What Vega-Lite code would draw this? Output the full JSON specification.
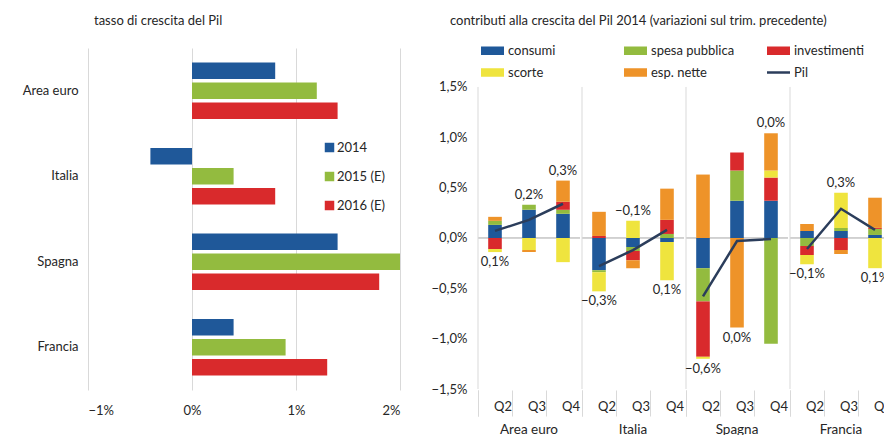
{
  "$schema": "https://vega.github.io/schema/vega-lite/v6.json",
  "padding": {"left": 22, "top": 15, "right": 0, "bottom": 0},
  "background": "white",
  "spacing": 31,
  "resolve": {"scale": {"color": "independent"}, "legend": {"color": "independent"}},
  "config": {
    "font": "Lato",
    "axis": {"labelFont": "Lato", "labelFontSize": 13, "labelColor": "#262626", "gridColor": "#d9d9d9", "gridWidth": 1},
    "legend": {"labelFont": "Lato", "labelFontSize": 13, "labelColor": "#262626"},
    "header": {"labelFont": "Lato", "labelFontSize": 13.5, "labelColor": "#262626"},
    "title": {"font": "Lato", "fontSize": 13, "fontWeight": "normal", "color": "#262626"},
    "view": {"stroke": null}
  },
  "datasets": {
    "componenti": [
      {"tipo": "consumi", "ordine": 1},
      {"tipo": "spesa pubblica", "ordine": 2},
      {"tipo": "investimenti", "ordine": 3},
      {"tipo": "scorte", "ordine": 4},
      {"tipo": "esp. nette", "ordine": 5}
    ],
    "crescita": [
      {"paese": "Area euro", "anno": "2014", "valore": 0.8},
      {"paese": "Area euro", "anno": "2015 (E)", "valore": 1.2},
      {"paese": "Area euro", "anno": "2016 (E)", "valore": 1.4},
      {"paese": "Italia", "anno": "2014", "valore": -0.4},
      {"paese": "Italia", "anno": "2015 (E)", "valore": 0.4},
      {"paese": "Italia", "anno": "2016 (E)", "valore": 0.8},
      {"paese": "Spagna", "anno": "2014", "valore": 1.4},
      {"paese": "Spagna", "anno": "2015 (E)", "valore": 2.0},
      {"paese": "Spagna", "anno": "2016 (E)", "valore": 1.8},
      {"paese": "Francia", "anno": "2014", "valore": 0.4},
      {"paese": "Francia", "anno": "2015 (E)", "valore": 0.9},
      {"paese": "Francia", "anno": "2016 (E)", "valore": 1.3}
    ],
    "contributi": [
      {"paese": "Area euro", "trimestre": "Q2", "tipo": "consumi", "valore": 0.13},
      {"paese": "Area euro", "trimestre": "Q2", "tipo": "spesa pubblica", "valore": 0.04},
      {"paese": "Area euro", "trimestre": "Q2", "tipo": "investimenti", "valore": -0.11},
      {"paese": "Area euro", "trimestre": "Q2", "tipo": "scorte", "valore": -0.03},
      {"paese": "Area euro", "trimestre": "Q2", "tipo": "esp. nette", "valore": 0.04},
      {"paese": "Area euro", "trimestre": "Q2", "tipo": "Pil", "pil": 0.07, "lato": "sotto"},
      {"paese": "Area euro", "trimestre": "Q3", "tipo": "consumi", "valore": 0.28},
      {"paese": "Area euro", "trimestre": "Q3", "tipo": "spesa pubblica", "valore": 0.05},
      {"paese": "Area euro", "trimestre": "Q3", "tipo": "investimenti", "valore": 0.0},
      {"paese": "Area euro", "trimestre": "Q3", "tipo": "scorte", "valore": -0.12},
      {"paese": "Area euro", "trimestre": "Q3", "tipo": "esp. nette", "valore": -0.02},
      {"paese": "Area euro", "trimestre": "Q3", "tipo": "Pil", "pil": 0.18, "lato": "sopra"},
      {"paese": "Area euro", "trimestre": "Q4", "tipo": "consumi", "valore": 0.24},
      {"paese": "Area euro", "trimestre": "Q4", "tipo": "spesa pubblica", "valore": 0.04},
      {"paese": "Area euro", "trimestre": "Q4", "tipo": "investimenti", "valore": 0.08},
      {"paese": "Area euro", "trimestre": "Q4", "tipo": "scorte", "valore": -0.24},
      {"paese": "Area euro", "trimestre": "Q4", "tipo": "esp. nette", "valore": 0.21},
      {"paese": "Area euro", "trimestre": "Q4", "tipo": "Pil", "pil": 0.34, "lato": "sopra"},
      {"paese": "Italia", "trimestre": "Q2", "tipo": "consumi", "valore": -0.32},
      {"paese": "Italia", "trimestre": "Q2", "tipo": "spesa pubblica", "valore": -0.02},
      {"paese": "Italia", "trimestre": "Q2", "tipo": "investimenti", "valore": 0.02},
      {"paese": "Italia", "trimestre": "Q2", "tipo": "scorte", "valore": -0.19},
      {"paese": "Italia", "trimestre": "Q2", "tipo": "esp. nette", "valore": 0.24},
      {"paese": "Italia", "trimestre": "Q2", "tipo": "Pil", "pil": -0.28, "lato": "sotto"},
      {"paese": "Italia", "trimestre": "Q3", "tipo": "consumi", "valore": -0.09},
      {"paese": "Italia", "trimestre": "Q3", "tipo": "spesa pubblica", "valore": -0.04},
      {"paese": "Italia", "trimestre": "Q3", "tipo": "investimenti", "valore": -0.09},
      {"paese": "Italia", "trimestre": "Q3", "tipo": "scorte", "valore": 0.17},
      {"paese": "Italia", "trimestre": "Q3", "tipo": "esp. nette", "valore": -0.08},
      {"paese": "Italia", "trimestre": "Q3", "tipo": "Pil", "pil": -0.12, "lato": "sopra"},
      {"paese": "Italia", "trimestre": "Q4", "tipo": "consumi", "valore": -0.04},
      {"paese": "Italia", "trimestre": "Q4", "tipo": "spesa pubblica", "valore": 0.04},
      {"paese": "Italia", "trimestre": "Q4", "tipo": "investimenti", "valore": 0.14},
      {"paese": "Italia", "trimestre": "Q4", "tipo": "scorte", "valore": -0.38},
      {"paese": "Italia", "trimestre": "Q4", "tipo": "esp. nette", "valore": 0.31},
      {"paese": "Italia", "trimestre": "Q4", "tipo": "Pil", "pil": 0.08, "lato": "sotto"},
      {"paese": "Spagna", "trimestre": "Q2", "tipo": "consumi", "valore": -0.30},
      {"paese": "Spagna", "trimestre": "Q2", "tipo": "spesa pubblica", "valore": -0.33},
      {"paese": "Spagna", "trimestre": "Q2", "tipo": "investimenti", "valore": -0.55},
      {"paese": "Spagna", "trimestre": "Q2", "tipo": "scorte", "valore": -0.02},
      {"paese": "Spagna", "trimestre": "Q2", "tipo": "esp. nette", "valore": 0.63},
      {"paese": "Spagna", "trimestre": "Q2", "tipo": "Pil", "pil": -0.58, "lato": "sotto"},
      {"paese": "Spagna", "trimestre": "Q3", "tipo": "consumi", "valore": 0.37},
      {"paese": "Spagna", "trimestre": "Q3", "tipo": "spesa pubblica", "valore": 0.30},
      {"paese": "Spagna", "trimestre": "Q3", "tipo": "investimenti", "valore": 0.18},
      {"paese": "Spagna", "trimestre": "Q3", "tipo": "scorte", "valore": 0.0},
      {"paese": "Spagna", "trimestre": "Q3", "tipo": "esp. nette", "valore": -0.89},
      {"paese": "Spagna", "trimestre": "Q3", "tipo": "Pil", "pil": -0.03, "lato": "sotto"},
      {"paese": "Spagna", "trimestre": "Q4", "tipo": "consumi", "valore": 0.37},
      {"paese": "Spagna", "trimestre": "Q4", "tipo": "spesa pubblica", "valore": -1.05},
      {"paese": "Spagna", "trimestre": "Q4", "tipo": "investimenti", "valore": 0.23},
      {"paese": "Spagna", "trimestre": "Q4", "tipo": "scorte", "valore": 0.07},
      {"paese": "Spagna", "trimestre": "Q4", "tipo": "esp. nette", "valore": 0.37},
      {"paese": "Spagna", "trimestre": "Q4", "tipo": "Pil", "pil": -0.01, "lato": "sopra"},
      {"paese": "Francia", "trimestre": "Q2", "tipo": "consumi", "valore": 0.07},
      {"paese": "Francia", "trimestre": "Q2", "tipo": "spesa pubblica", "valore": -0.08},
      {"paese": "Francia", "trimestre": "Q2", "tipo": "investimenti", "valore": -0.09},
      {"paese": "Francia", "trimestre": "Q2", "tipo": "scorte", "valore": -0.09},
      {"paese": "Francia", "trimestre": "Q2", "tipo": "esp. nette", "valore": 0.07},
      {"paese": "Francia", "trimestre": "Q2", "tipo": "Pil", "pil": -0.11, "lato": "sotto"},
      {"paese": "Francia", "trimestre": "Q3", "tipo": "consumi", "valore": 0.07},
      {"paese": "Francia", "trimestre": "Q3", "tipo": "spesa pubblica", "valore": 0.03},
      {"paese": "Francia", "trimestre": "Q3", "tipo": "investimenti", "valore": -0.12},
      {"paese": "Francia", "trimestre": "Q3", "tipo": "scorte", "valore": 0.35},
      {"paese": "Francia", "trimestre": "Q3", "tipo": "esp. nette", "valore": -0.04},
      {"paese": "Francia", "trimestre": "Q3", "tipo": "Pil", "pil": 0.29, "lato": "sopra"},
      {"paese": "Francia", "trimestre": "Q4", "tipo": "consumi", "valore": 0.03},
      {"paese": "Francia", "trimestre": "Q4", "tipo": "spesa pubblica", "valore": 0.06},
      {"paese": "Francia", "trimestre": "Q4", "tipo": "investimenti", "valore": 0.01},
      {"paese": "Francia", "trimestre": "Q4", "tipo": "scorte", "valore": -0.30},
      {"paese": "Francia", "trimestre": "Q4", "tipo": "esp. nette", "valore": 0.30},
      {"paese": "Francia", "trimestre": "Q4", "tipo": "Pil", "pil": 0.08, "lato": "sotto"}
    ]
  },
  "hconcat": [
    {
      "data": {"name": "crescita"},
      "width": 312,
      "height": 342,
      "title": {"text": "tasso di crescita del Pil", "anchor": "start", "frame": "group", "dx": 6, "offset": 20},
      "mark": {"type": "bar"},
      "encoding": {
        "y": {"field": "paese", "type": "nominal", "sort": ["Area euro", "Italia", "Spagna", "Francia"], "scale": {"paddingInner": 0.34, "paddingOuter": 0.17}, "axis": {"title": null, "ticks": false, "domain": false, "labelPadding": 10}},
        "yOffset": {"field": "anno", "type": "nominal", "sort": ["2014", "2015 (E)", "2016 (E)"], "scale": {"paddingInner": 0.18}},
        "x": {"field": "valore", "type": "quantitative", "scale": {"domain": [-1, 2], "nice": false}, "axis": {"title": null, "values": [-1, 0, 1, 2], "domain": false, "ticks": false, "labelPadding": 14, "labelExpr": "format(datum.value, '.0f') + '%'"}},
        "color": {"field": "anno", "type": "nominal", "sort": ["2014", "2015 (E)", "2016 (E)"], "scale": {"domain": ["2014", "2015 (E)", "2016 (E)"], "range": ["#1f5899", "#93bb3f", "#d92a2c"]}, "legend": {"title": null, "orient": "none", "legendX": 235, "legendY": 93, "symbolType": "square", "symbolSize": 90, "symbolStrokeWidth": 0, "rowPadding": 15, "labelOffset": 1}}
      }
    },
    {
      "data": {"name": "contributi"},
      "transform": [
        {"lookup": "tipo", "from": {"data": {"name": "componenti"}, "key": "tipo", "fields": ["ordine"]}}
      ],
      "title": {"text": "contributi alla crescita del Pil 2014  (variazioni sul trim. precedente)", "anchor": "start", "frame": "group", "dx": -28, "offset": 16},
      "facet": {"column": {"field": "paese", "type": "nominal", "sort": ["Area euro", "Italia", "Spagna", "Francia"], "title": null, "header": {"labelOrient": "bottom", "labelPadding": 6}}},
      "spacing": 0,
      "spec": {
        "width": 102,
        "height": 341,
        "layer": [
          {
            "transform": [{"filter": "datum.tipo == 'Pil' && datum.trimestre == 'Q2'"}],
            "mark": {"type": "rule", "color": "#a6a6a6", "strokeWidth": 1},
            "encoding": {
              "y": {"datum": 0, "type": "quantitative", "scale": {"domain": [-1.5, 1.887], "nice": false, "zero": false}, "axis": {"title": null, "values": [-1.5, -1, -0.5, 0, 0.5, 1, 1.5], "domain": false, "ticks": false, "labelPadding": 10, "labelExpr": "replace(format(datum.value, '.1f'), '.', ',') + '%'"}}
            }
          },
          {
            "transform": [{"filter": "datum.tipo == 'Pil' && datum.trimestre == 'Q2'"}],
            "mark": {"type": "rule", "color": "#d9d9d9", "strokeWidth": 1},
            "encoding": {
              "x": {"field": "trimestre", "type": "nominal", "sort": ["Q2", "Q3", "Q4"], "bandPosition": 0},
              "y": {"datum": 1.5, "type": "quantitative"},
              "y2": {"datum": -1.5}
            }
          },
          {
            "transform": [{"filter": "datum.tipo != 'Pil'"}],
            "mark": {"type": "bar", "width": {"band": 0.4}},
            "encoding": {
              "x": {"field": "trimestre", "type": "nominal", "sort": ["Q2", "Q3", "Q4"], "scale": {"paddingInner": 0, "paddingOuter": 0}, "axis": {"title": null, "labelAngle": 0, "domain": false, "ticks": true, "bandPosition": 0, "tickExtra": true, "tickSize": 26, "tickColor": "#d9d9d9", "labelPadding": -10, "labelOffset": 17}},
              "y": {"field": "valore", "type": "quantitative", "stack": "zero", "title": null},
              "order": {"field": "ordine", "type": "quantitative", "sort": "ascending"},
              "color": {"field": "tipo", "type": "nominal", "scale": {"domain": ["consumi", "spesa pubblica", "investimenti", "scorte", "esp. nette", "Pil"], "range": ["#1f5899", "#93bb3f", "#d92a2c", "#efe43e", "#ee9329", "#2b3d5b"]}, "legend": {"title": null, "orient": "none", "legendX": 8, "legendY": -4, "direction": "horizontal", "columns": 3, "gridAlign": "all", "padding": 0, "columnPadding": 27, "rowPadding": 8, "labelOffset": 9, "symbolType": "M-1,-0.37H1V0.37H-1Z", "symbolSize": 529, "symbolStrokeWidth": 0, "encode": {"symbols": {"update": {"shape": {"signal": "datum.value === 'Pil' ? 'M-1,0H1' : 'M-1,-0.37H1V0.37H-1Z'"}, "stroke": {"signal": "datum.value === 'Pil' ? '#2b3d5b' : 'transparent'"}, "strokeWidth": {"signal": "datum.value === 'Pil' ? 2.5 : 0"}}}}}}
            }
          },
          {
            "transform": [{"filter": "datum.tipo == 'Pil'"}],
            "mark": {"type": "line", "color": "#2b3d5b", "strokeWidth": 2.5},
            "encoding": {
              "x": {"field": "trimestre", "type": "nominal", "sort": ["Q2", "Q3", "Q4"]},
              "y": {"field": "pil", "type": "quantitative", "title": null}
            }
          },
          {
            "transform": [
              {"filter": "datum.tipo == 'Pil' || datum.valore > 0"},
              {"joinaggregate": [{"op": "sum", "field": "valore", "as": "cima"}], "groupby": ["paese", "trimestre"]},
              {"filter": "datum.tipo == 'Pil' && datum.lato == 'sopra'"}
            ],
            "mark": {"type": "text", "baseline": "bottom", "dy": -3, "fontSize": 13, "color": "#262626", "text": {"expr": "replace(format(datum.pil, '.1f'), '.', ',') + '%'"}},
            "encoding": {
              "x": {"field": "trimestre", "type": "nominal", "sort": ["Q2", "Q3", "Q4"]},
              "y": {"field": "cima", "type": "quantitative", "title": null}
            }
          },
          {
            "transform": [
              {"filter": "datum.tipo == 'Pil' || datum.valore < 0"},
              {"joinaggregate": [{"op": "sum", "field": "valore", "as": "fondo"}], "groupby": ["paese", "trimestre"]},
              {"filter": "datum.tipo == 'Pil' && datum.lato == 'sotto'"}
            ],
            "mark": {"type": "text", "baseline": "top", "dy": 4, "fontSize": 13, "color": "#262626", "text": {"expr": "replace(format(datum.pil, '.1f'), '.', ',') + '%'"}},
            "encoding": {
              "x": {"field": "trimestre", "type": "nominal", "sort": ["Q2", "Q3", "Q4"]},
              "y": {"field": "fondo", "type": "quantitative", "title": null}
            }
          }
        ]
      }
    }
  ]
}
